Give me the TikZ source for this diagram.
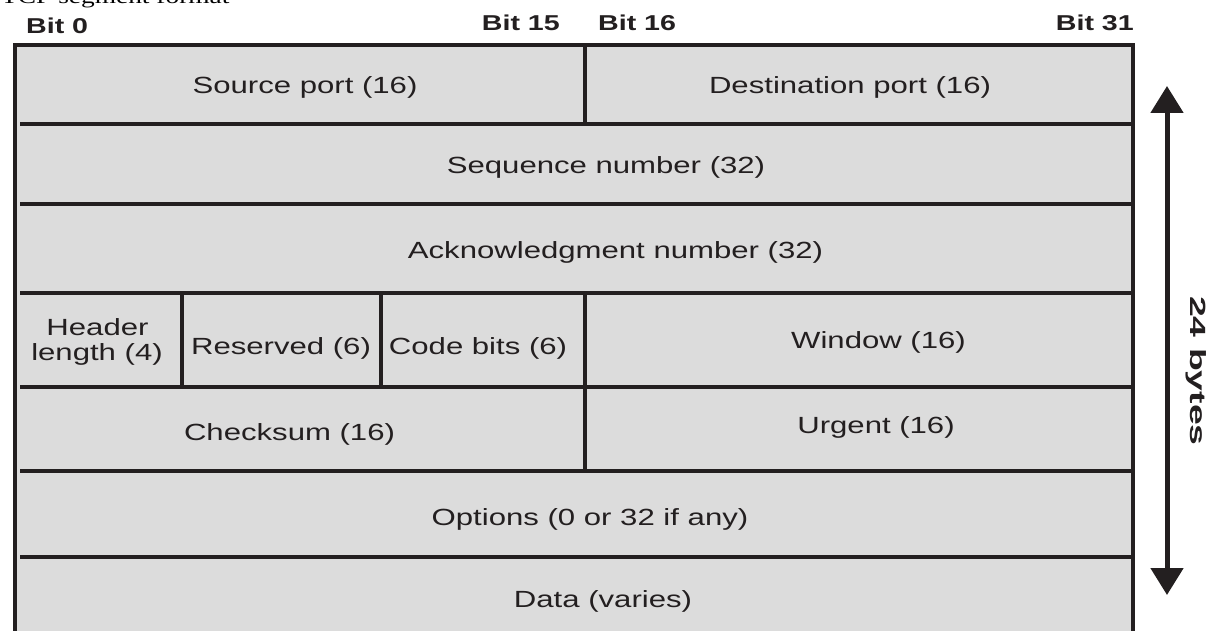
\documentclass[tikz,border=0pt]{standalone}
\usepackage{fontspec}
\usetikzlibrary{arrows.meta}
\newfontfamily\labfont[FakeStretch=1.33]{Liberation Sans}
\newfontfamily\longfont[FakeStretch=1.7]{Liberation Sans}
\newfontfamily\titlefont[FakeStretch=1.33]{Liberation Serif}
\definecolor{ink}{HTML}{231F20}
\definecolor{cellfill}{HTML}{DCDCDC}
\tikzset{
  lab/.style={inner sep=0pt, text=ink, anchor=base, font=\labfont\fontsize{23.4}{28}\selectfont},
  bitlab/.style={inner sep=0pt, text=ink, font=\labfont\bfseries\fontsize{21.5}{26}\selectfont},
  rule/.style={draw=ink, line width=4pt},
  frame/.style={draw=ink, line width=4pt, line join=miter},
  sizearrow/.style={draw=ink, line width=5pt, {Triangle[width=32pt,length=27pt]}-{Triangle[width=32pt,length=27pt]}},
}
\begin{document}
\begin{tikzpicture}[x=1pt,y=-1pt]
\useasboundingbox (0,0) rectangle (1212,631);
\fill[white] (0,0) rectangle (1212,631);
\fill[cellfill] (15.3,45) rectangle (1133,631);

% title (partly cut off at top, as in the reference)
\node[anchor=base west, inner sep=0pt, text=black, font=\titlefont\fontsize{20.6}{24}\selectfont] (title) at (1,4) {TCP segment format};

% bit labels
\node[bitlab, anchor=base west] (b0) at (26,33.3) {Bit 0};
\node[bitlab, anchor=base east] (b15) at (560,31) {Bit 15};
\node[bitlab, anchor=base west] (b16) at (598,31) {Bit 16};
\node[bitlab, anchor=base east] (b31) at (1134,31) {Bit 31};

% horizontal row separators
\draw[rule] (20,124.5) -- (1131,124.5);
\draw[rule] (20,204) -- (1131,204);
\draw[rule] (20,292.5) -- (1131,292.5);
\draw[rule] (20,386.5) -- (1131,386.5);
\draw[rule] (20,471) -- (1131,471);
\draw[rule] (20,557) -- (1131,557);

% vertical dividers
\draw[rule] (584.5,45) -- (584.5,124.5);
\draw[rule] (181.5,292.5) -- (181.5,386.5);
\draw[rule] (381.3,292.5) -- (381.3,386.5);
\draw[rule] (584.5,292.5) -- (584.5,471);

% outer frame (open at bottom)
\draw[frame] (15.3,631) -- (15.3,45) -- (1133,45) -- (1133,631);

% field labels
\node[lab] (src) at (305,94) {Source port (16)};
\node[lab] (dst) at (850,94) {Destination port (16)};
\node[lab] (seq) at (606,173.5) {Sequence number (32)};
\node[lab] (ack) at (615.5,258.5) {Acknowledgment number (32)};
\node[lab] (hl1) at (97.5,335) {Header};
\node[lab] (hl2) at (97,360) {length (4)};
\node[lab] (res) at (281,354) {Reserved (6)};
\node[lab] (code) at (478,354) {Code bits (6)};
\node[lab] (win) at (878.5,348) {Window (16)};
\node[lab] (chk) at (289.5,440) {Checksum (16)};
\node[lab] (urg) at (876,433) {Urgent (16)};
\node[lab] (opt) at (590,525.5) {Options (0 or 32 if any)};
\node[lab] (data) at (603,607) {Data (varies)};

% size arrow
\coordinate (atop) at (1167,86);
\coordinate (abot) at (1167,595);
\draw[sizearrow] (atop) -- (abot);
\node[inner sep=0pt, text=ink, rotate=-90, font=\longfont\bfseries\fontsize{22}{26}\selectfont] (bytes) at (1196,371) {24 bytes};
\end{tikzpicture}
\end{document}
